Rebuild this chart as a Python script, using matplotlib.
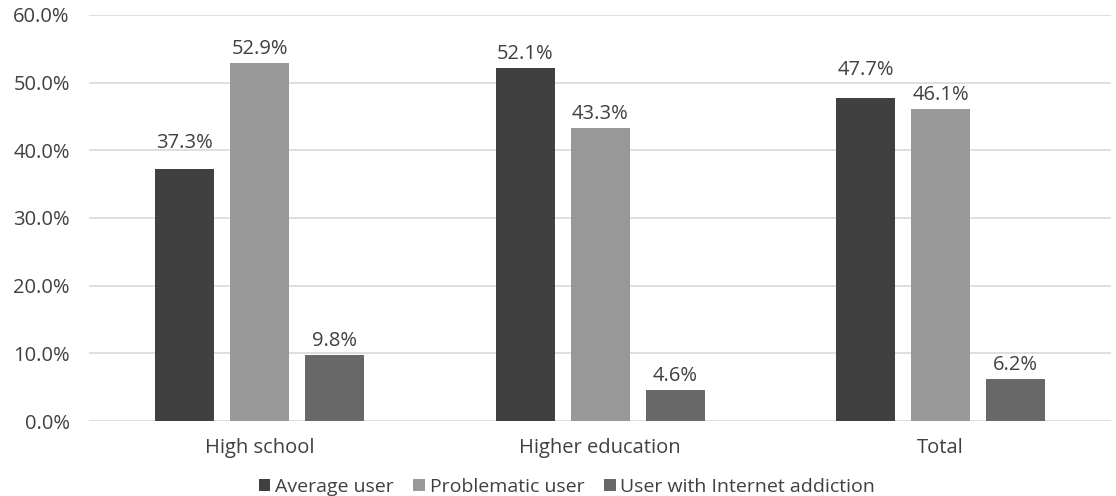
import matplotlib.pyplot as plt
import numpy as np
from matplotlib.patches import Patch

categories = ['High school', 'Higher education', 'Total']
series = ['Average user', 'Problematic user', 'User with Internet addiction']
average_user = [37.3, 52.1, 47.7]
problematic_user = [52.9, 43.3, 46.1]
internet_addiction = [9.8, 4.6, 6.2]
yticks = [0, 10, 20, 30, 40, 50, 60]

colors = ['#404040', '#989898', '#686868']
text_color = '#404040'
# extra lift for labels that sit higher in the original
label_lift = [[1.7, 0, 2.1], [0, 0, 0], [0, 0, 0]]

plt.rcParams['font.family'] = ['Open Sans', 'DejaVu Sans']

fig = plt.figure(figsize=(11.16, 4.96), dpi=100)
ax = fig.add_axes([0.08, 0.151, 0.9155, 0.819])

x = np.arange(len(categories))
width = 0.173
step = 0.22
values = [average_user, problematic_user, internet_addiction]

for i, (name, vals) in enumerate(zip(series, values)):
    pos = x + (i - 1) * step
    bars = ax.bar(pos, vals, width, color=colors[i], label=name, zorder=3)
    for j, (b, v) in enumerate(zip(bars, vals)):
        ax.text(b.get_x() + b.get_width() / 2, v + 0.6 + label_lift[i][j], f'{v:.1f}%',
                ha='center', va='bottom', fontsize=14.5, color=text_color)

ax.set_xlim(-0.5, 2.5)
ax.set_ylim(0, 60)
ax.set_yticks(yticks)
ax.set_yticklabels([f'{t:.1f}%' for t in yticks])
ax.set_xticks(x)
ax.set_xticklabels(categories)
ax.tick_params(axis='both', length=0, labelsize=14.5, colors=text_color)
ax.tick_params(axis='y', pad=14)
ax.tick_params(axis='x', pad=12)
ax.yaxis.grid(True, color='#d9d9d9', linewidth=1.2, zorder=0)
for s in ax.spines.values():
    s.set_visible(False)

handles = [Patch(facecolor=c, label=n) for c, n in zip(colors, series)]
fig.legend(handles=handles, loc='lower center', bbox_to_anchor=(0.508, -0.035),
           ncol=3, frameon=False, fontsize=14, handlelength=0.6, handleheight=0.6,
           handletextpad=0.25, columnspacing=1.0, labelcolor=text_color)

fig.savefig('out.png', dpi=100)
